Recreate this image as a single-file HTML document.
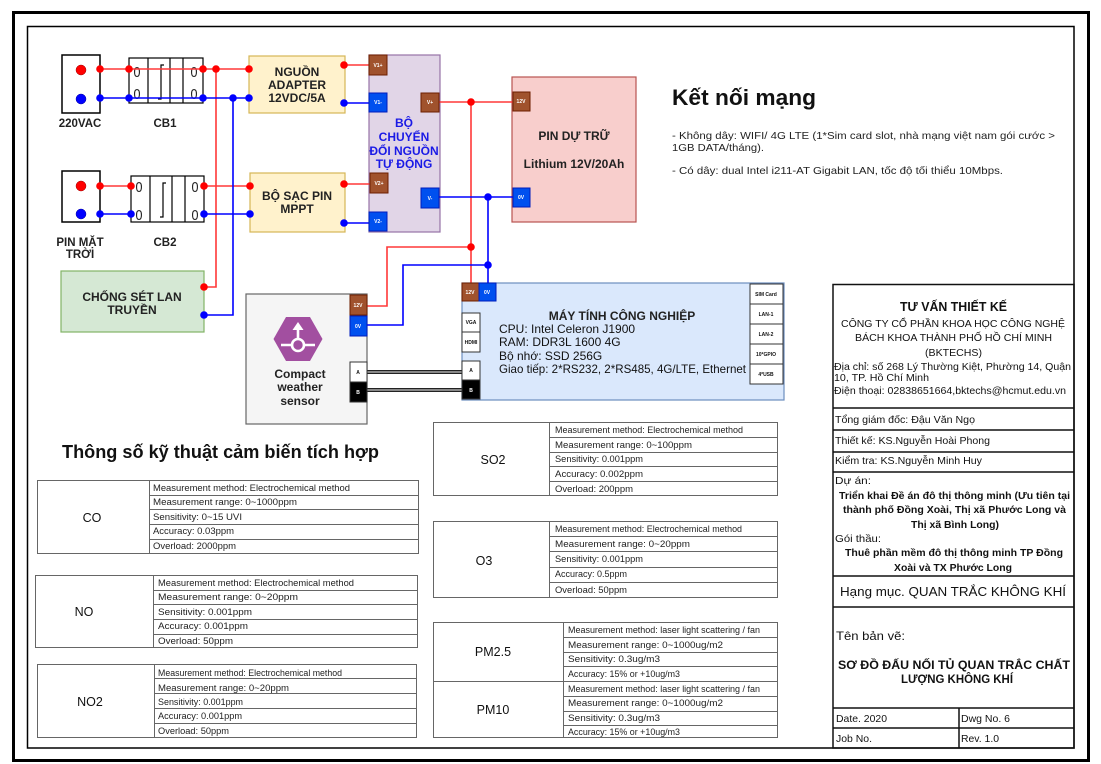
<!DOCTYPE html>
<html><head><meta charset="utf-8"><style>
html,body{margin:0;padding:0;background:#fff;}
svg{display:block;font-family:"Liberation Sans",Arial,sans-serif;}
</style></head><body>
<svg width="1101" height="764" viewBox="0 0 1101 764" xmlns="http://www.w3.org/2000/svg">
<rect width="1101" height="764" fill="#fff"/>
<!-- frame -->
<rect x="13.5" y="12.5" width="1075" height="748" fill="none" stroke="#000" stroke-width="3"/>
<rect x="27.5" y="26.5" width="1046.5" height="721.5" fill="none" stroke="#000" stroke-width="1.5"/>

<!-- sockets -->
<rect x="62" y="55" width="38" height="58" fill="#fff" stroke="#000" stroke-width="1.5"/>
<circle cx="81" cy="70" r="5" fill="#f00" stroke="#900" stroke-width="0.5"/>
<circle cx="81" cy="99" r="5" fill="#00f" stroke="#009" stroke-width="0.5"/>
<rect x="62" y="171" width="38" height="51" fill="#fff" stroke="#000" stroke-width="1.5"/>
<circle cx="81" cy="186" r="5" fill="#f00" stroke="#900" stroke-width="0.5"/>
<circle cx="81" cy="214" r="5" fill="#00f" stroke="#009" stroke-width="0.5"/>
<g font-weight="bold" font-size="11.5" fill="#222" text-anchor="middle">
<text x="80" y="127">220VAC</text>
<text x="165" y="127">CB1</text>
<text x="80" y="246">PIN MẶT</text>
<text x="80" y="258">TRỜI</text>
<text x="165" y="246">CB2</text>
</g>

<!-- CB1 / CB2 -->
<g stroke="#000" stroke-width="1.2" fill="none">
<rect x="129" y="58" width="74" height="45" fill="#fff"/>
<line x1="148" y1="58" x2="148" y2="103"/>
<line x1="170" y1="58" x2="170" y2="103"/>
<line x1="183" y1="58" x2="183" y2="103"/>
<path d="M164 65 H161 V99 H158"/>
<rect x="131" y="176" width="73" height="46" fill="#fff"/>
<line x1="150" y1="176" x2="150" y2="222"/>
<line x1="172" y1="176" x2="172" y2="222"/>
<line x1="185" y1="176" x2="185" y2="222"/>
<path d="M166 183 H163 V217 H160"/>
</g>
<g font-size="15" fill="#222" text-anchor="middle">
<text x="137" y="77" textLength="7" lengthAdjust="spacingAndGlyphs">0</text><text x="137" y="99" textLength="7" lengthAdjust="spacingAndGlyphs">0</text>
<text x="194" y="77" textLength="7" lengthAdjust="spacingAndGlyphs">0</text><text x="194" y="99" textLength="7" lengthAdjust="spacingAndGlyphs">0</text>
<text x="139" y="192" textLength="7" lengthAdjust="spacingAndGlyphs">0</text><text x="139" y="220" textLength="7" lengthAdjust="spacingAndGlyphs">0</text>
<text x="195" y="192" textLength="7" lengthAdjust="spacingAndGlyphs">0</text><text x="195" y="220" textLength="7" lengthAdjust="spacingAndGlyphs">0</text>
</g>

<!-- boxes -->
<rect x="249" y="56" width="96" height="57" fill="#fff2cc" stroke="#d6b656" stroke-width="1.2"/>
<rect x="250" y="173" width="95" height="59" fill="#fff2cc" stroke="#d6b656" stroke-width="1.2"/>
<rect x="61" y="271" width="143" height="61" fill="#d5e8d4" stroke="#82b366" stroke-width="1.2"/>
<rect x="369" y="55" width="71" height="177" fill="#e1d5e7" stroke="#9673a6" stroke-width="1.2"/>
<rect x="512" y="77" width="124" height="145" fill="#f8cecc" stroke="#b85450" stroke-width="1.2"/>
<rect x="246" y="294" width="121" height="130" fill="#f5f5f5" stroke="#666" stroke-width="1.2"/>
<rect x="462" y="283" width="322" height="117" fill="#dae8fc" stroke="#6c8ebf" stroke-width="1.2"/>

<g font-weight="bold" font-size="12" fill="#222" text-anchor="middle">
<text x="297" y="76">NGUỒN</text>
<text x="297" y="89">ADAPTER</text>
<text x="297" y="102">12VDC/5A</text>
<text x="297" y="200">BỘ SẠC PIN</text>
<text x="297" y="213">MPPT</text>
<text x="132" y="301">CHỐNG SÉT LAN</text>
<text x="132" y="314">TRUYỀN</text>
<text x="574" y="140">PIN DỰ TRỮ</text>
<text x="574" y="168">Lithium 12V/20Ah</text>
<text x="300" y="378">Compact</text>
<text x="300" y="391">weather</text>
<text x="300" y="405">sensor</text>
<text x="622" y="320">MÁY TÍNH CÔNG NGHIỆP</text>
</g>
<g font-weight="bold" font-size="12" fill="#1a1ae6" text-anchor="middle">
<text x="404" y="127">BỘ</text>
<text x="404" y="141">CHUYỂN</text>
<text x="404" y="155">ĐỔI NGUỒN</text>
<text x="404" y="168">TỰ ĐỘNG</text>
</g>
<g font-size="12" fill="#111">
<text x="499" y="333">CPU: Intel Celeron J1900</text>
<text x="499" y="346">RAM: DDR3L 1600 4G</text>
<text x="499" y="360">Bộ nhớ: SSD 256G</text>
<text x="499" y="373" textLength="247" lengthAdjust="spacingAndGlyphs">Giao tiếp: 2*RS232, 2*RS485, 4G/LTE, Ethernet</text>
</g>

<!-- wires -->
<g fill="none" stroke-width="1.6">
<g stroke="#ff3838">
<path d="M100 69 H249"/>
<path d="M216 69 V287 H204"/>
<path d="M100 186 H131 M204 186 H250"/>
<path d="M345 65 H369"/>
<path d="M345 184 H370"/>
<path d="M439 102 H513"/>
<path d="M471 102 V283"/>
<path d="M471 247 H387 V306 H367"/>
</g>
<g stroke="#0000ff">
<path d="M100 98 H249"/>
<path d="M233 98 V315 H204"/>
<path d="M100 214 H131 M204 214 H250"/>
<path d="M345 103 H369"/>
<path d="M345 223 H369"/>
<path d="M439 197 H513"/>
<path d="M488 197 V283"/>
<path d="M488 265 H403 V325 H367"/>
</g>
</g>
<!-- dots -->
<g fill="#f00">
<circle cx="100" cy="69" r="3.8"/><circle cx="129" cy="69" r="3.8"/><circle cx="203" cy="69" r="3.8"/>
<circle cx="216" cy="69" r="3.8"/><circle cx="249" cy="69" r="3.8"/>
<circle cx="100" cy="186" r="3.8"/><circle cx="131" cy="186" r="3.8"/><circle cx="204" cy="186" r="3.8"/><circle cx="250" cy="186" r="3.8"/>
<circle cx="204" cy="287" r="3.8"/>
<circle cx="344" cy="65" r="3.8"/><circle cx="344" cy="184" r="3.8"/>
<circle cx="471" cy="102" r="3.8"/><circle cx="471" cy="247" r="3.8"/>
</g>
<g fill="#00f">
<circle cx="100" cy="98" r="3.8"/><circle cx="129" cy="98" r="3.8"/><circle cx="203" cy="98" r="3.8"/>
<circle cx="233" cy="98" r="3.8"/><circle cx="249" cy="98" r="3.8"/>
<circle cx="100" cy="214" r="3.8"/><circle cx="131" cy="214" r="3.8"/><circle cx="204" cy="214" r="3.8"/><circle cx="250" cy="214" r="3.8"/>
<circle cx="204" cy="315" r="3.8"/>
<circle cx="344" cy="103" r="3.8"/><circle cx="344" cy="223" r="3.8"/>
<circle cx="488" cy="197" r="3.8"/><circle cx="488" cy="265" r="3.8"/>
</g>

<!-- A/B cables -->
<g fill="none">
<path d="M367 372 H462 M367 390 H462" stroke="#222" stroke-width="4"/>
<path d="M367 372 H462 M367 390 H462" stroke="#aaa" stroke-width="1.6"/>
</g>

<!-- terminals -->
<g stroke-width="1">
<g fill="#a0522d" stroke="#6d1f00">
<rect x="369" y="55" width="18" height="20"/>
<rect x="421" y="93" width="18" height="19"/>
<rect x="370" y="173" width="18" height="20"/>
<rect x="513" y="92" width="17" height="19"/>
<rect x="350" y="295" width="17" height="20"/>
<rect x="462" y="283" width="17" height="18"/>
</g>
<g fill="#0050ef" stroke="#001dbc">
<rect x="369" y="93" width="18" height="19"/>
<rect x="421" y="188" width="18" height="20"/>
<rect x="369" y="212" width="18" height="19"/>
<rect x="513" y="188" width="17" height="19"/>
<rect x="350" y="316" width="17" height="20"/>
<rect x="479" y="283" width="17" height="18"/>
</g>
<g fill="#fff" stroke="#333">
<rect x="350" y="362" width="17" height="20"/>
<rect x="462" y="361" width="18" height="19"/>
<rect x="462" y="313" width="18" height="19"/>
<rect x="462" y="332" width="18" height="20"/>
<rect x="750" y="284" width="33" height="20"/>
<rect x="750" y="304" width="33" height="20"/>
<rect x="750" y="324" width="33" height="20"/>
<rect x="750" y="344" width="33" height="20"/>
<rect x="750" y="364" width="33" height="20"/>
</g>
<g fill="#000" stroke="#333">
<rect x="350" y="382" width="17" height="20"/>
<rect x="462" y="380" width="18" height="19"/>
</g>
</g>
<g font-size="5" font-weight="bold" fill="#fff" text-anchor="middle">
<text x="378" y="67">V1+</text>
<text x="378" y="104">V1-</text>
<text x="430" y="104">V+</text>
<text x="379" y="185">V2+</text>
<text x="430" y="200">V-</text>
<text x="378" y="223">V2-</text>
<text x="521" y="103">12V</text>
<text x="521" y="199">0V</text>
<text x="358" y="307">12V</text>
<text x="358" y="328">0V</text>
<text x="470" y="294">12V</text>
<text x="487" y="294">0V</text>
<text x="358" y="394">B</text>
<text x="471" y="392">B</text>
</g>
<g font-size="5" font-weight="bold" fill="#111" text-anchor="middle">
<text x="358" y="374">A</text>
<text x="471" y="372">A</text>
<text x="471" y="324">VGA</text>
<text x="471" y="344">HDMI</text>
<text x="766" y="296">SIM Card</text>
<text x="766" y="316">LAN-1</text>
<text x="766" y="336">LAN-2</text>
<text x="766" y="356">10*GPIO</text>
<text x="766" y="376">4*USB</text>
</g>

<!-- sensor icon -->
<polygon points="273.5,339 286,317 310,317 322.5,339 310,361 286,361" fill="#a24fa0"/>
<g stroke="#fff" stroke-width="2.6" fill="none">
<circle cx="298" cy="345" r="6"/>
<path d="M281 345 H292 M304 345 H315"/>
<path d="M298 339 V328"/>
</g>
<polygon points="298,322 292.5,330 303.5,330" fill="#fff"/>

<!-- Ket noi mang -->
<text x="672" y="105" font-size="22" font-weight="bold" fill="#111" textLength="144" lengthAdjust="spacingAndGlyphs">Kết nối mạng</text>
<g font-size="10.5" fill="#222">
<text x="672" y="139" textLength="383" lengthAdjust="spacingAndGlyphs">- Không dây: WIFI/ 4G LTE (1*Sim card slot, nhà mạng việt nam gói cước &gt;</text>
<text x="672" y="151" textLength="92" lengthAdjust="spacingAndGlyphs">1GB DATA/tháng).</text>
<text x="672" y="174" textLength="331" lengthAdjust="spacingAndGlyphs">- Có dây: dual Intel i211-AT Gigabit LAN, tốc độ tối thiểu 10Mbps.</text>
</g>

<!-- sensor spec title -->
<text x="62" y="458" font-size="18" font-weight="bold" fill="#111" textLength="317" lengthAdjust="spacingAndGlyphs">Thông số kỹ thuật cảm biến tích hợp</text>

<!-- tables -->
<g fill="none" stroke="#666" stroke-width="1">
<rect x="37.5" y="480.5" width="381" height="73"/>
<path d="M149.5 480 V554 M149 495.5 H419 M149 509.5 H419 M149 524.5 H419 M149 539.5 H419"/>
<rect x="35.5" y="575.5" width="382" height="72"/>
<path d="M153.5 575 V648 M153 590.5 H418 M153 604.5 H418 M153 619.5 H418 M153 634.5 H418"/>
<rect x="37.5" y="664.5" width="379" height="73"/>
<path d="M154.5 664 V738 M154 678.5 H417 M154 693.5 H417 M154 708.5 H417 M154 723.5 H417"/>
<rect x="433.5" y="422.5" width="344" height="73"/>
<path d="M549.5 422 V496 M549 437.5 H778 M549 452.5 H778 M549 466.5 H778 M549 481.5 H778"/>
<rect x="433.5" y="521.5" width="344" height="76"/>
<path d="M549.5 521 V598 M549 536.5 H778 M549 551.5 H778 M549 567.5 H778 M549 582.5 H778"/>
<rect x="433.5" y="622.5" width="344" height="115"/>
<path d="M563.5 622 V738 M563 637.5 H778 M563 652.5 H778 M563 666.5 H778 M433 681.5 H778 M563 696.5 H778 M563 711.5 H778 M563 725.5 H778"/>
</g>
<g font-size="12.5" fill="#111" text-anchor="middle">
<text x="92" y="522">CO</text>
<text x="84" y="616">NO</text>
<text x="90" y="706">NO2</text>
<text x="493" y="464">SO2</text>
<text x="484" y="565">O3</text>
<text x="493" y="656">PM2.5</text>
<text x="493" y="714">PM10</text>
</g>
<g font-size="9" fill="#222">
<text x="153" y="491" textLength="197" lengthAdjust="spacingAndGlyphs">Measurement method: Electrochemical method</text>
<text x="153" y="505" textLength="144" lengthAdjust="spacingAndGlyphs">Measurement range: 0~1000ppm</text>
<text x="153" y="520" textLength="89" lengthAdjust="spacingAndGlyphs">Sensitivity: 0~15 UVI</text>
<text x="153" y="534" textLength="81" lengthAdjust="spacingAndGlyphs">Accuracy: 0.03ppm</text>
<text x="153" y="549" textLength="83" lengthAdjust="spacingAndGlyphs">Overload: 2000ppm</text>

<text x="158" y="586" textLength="196" lengthAdjust="spacingAndGlyphs">Measurement method: Electrochemical method</text>
<text x="158" y="600" textLength="140" lengthAdjust="spacingAndGlyphs">Measurement range:    0~20ppm</text>
<text x="158" y="615" textLength="94" lengthAdjust="spacingAndGlyphs">Sensitivity: 0.001ppm</text>
<text x="158" y="629" textLength="90" lengthAdjust="spacingAndGlyphs">Accuracy: 0.001ppm</text>
<text x="158" y="644" textLength="75" lengthAdjust="spacingAndGlyphs">Overload:  50ppm</text>

<text x="158" y="676" textLength="184" lengthAdjust="spacingAndGlyphs">Measurement method: Electrochemical method</text>
<text x="158" y="691" textLength="131" lengthAdjust="spacingAndGlyphs">Measurement range:  0~20ppm</text>
<text x="158" y="705" textLength="85" lengthAdjust="spacingAndGlyphs">Sensitivity:  0.001ppm</text>
<text x="158" y="719" textLength="84" lengthAdjust="spacingAndGlyphs">Accuracy:  0.001ppm</text>
<text x="158" y="734" textLength="71" lengthAdjust="spacingAndGlyphs">Overload:  50ppm</text>

<text x="555" y="433" textLength="188" lengthAdjust="spacingAndGlyphs">Measurement method: Electrochemical method</text>
<text x="555" y="448" textLength="137" lengthAdjust="spacingAndGlyphs">Measurement range:  0~100ppm</text>
<text x="555" y="462" textLength="88" lengthAdjust="spacingAndGlyphs">Sensitivity:  0.001ppm</text>
<text x="555" y="477" textLength="88" lengthAdjust="spacingAndGlyphs">Accuracy:  0.002ppm</text>
<text x="555" y="492" textLength="78" lengthAdjust="spacingAndGlyphs">Overload:  200ppm</text>

<text x="555" y="532" textLength="187" lengthAdjust="spacingAndGlyphs">Measurement method: Electrochemical method</text>
<text x="555" y="547" textLength="135" lengthAdjust="spacingAndGlyphs">Measurement range:    0~20ppm</text>
<text x="555" y="562" textLength="88" lengthAdjust="spacingAndGlyphs">Sensitivity:  0.001ppm</text>
<text x="555" y="577" textLength="72" lengthAdjust="spacingAndGlyphs">Accuracy:  0.5ppm</text>
<text x="555" y="593" textLength="72" lengthAdjust="spacingAndGlyphs">Overload:  50ppm</text>

<text x="568" y="633" textLength="192" lengthAdjust="spacingAndGlyphs">Measurement method: laser light scattering / fan</text>
<text x="568" y="648" textLength="155" lengthAdjust="spacingAndGlyphs">Measurement range:    0~1000ug/m2</text>
<text x="568" y="662" textLength="92" lengthAdjust="spacingAndGlyphs">Sensitivity:  0.3ug/m3</text>
<text x="568" y="677" textLength="112" lengthAdjust="spacingAndGlyphs">Accuracy:  15% or +10ug/m3</text>
<text x="568" y="692" textLength="192" lengthAdjust="spacingAndGlyphs">Measurement method: laser light scattering / fan</text>
<text x="568" y="706" textLength="155" lengthAdjust="spacingAndGlyphs">Measurement range:    0~1000ug/m2</text>
<text x="568" y="721" textLength="92" lengthAdjust="spacingAndGlyphs">Sensitivity:  0.3ug/m3</text>
<text x="568" y="735" textLength="112" lengthAdjust="spacingAndGlyphs">Accuracy:  15% or +10ug/m3</text>
</g>

<!-- title block -->
<g fill="none" stroke="#111" stroke-width="1.5">
<rect x="833" y="284.5" width="241" height="463.5"/>
<path d="M833 408 H1074 M833 430 H1074 M833 452 H1074 M833 472 H1074 M833 576 H1074 M833 607 H1074 M833 708 H1074 M833 728 H1074 M959 708 V748"/>
</g>
<g fill="#111" font-size="10.5">
<text x="953.5" y="311" font-size="12.5" font-weight="bold" text-anchor="middle" textLength="107" lengthAdjust="spacingAndGlyphs">TƯ VẤN THIẾT KẾ</text>
<text x="953" y="327" text-anchor="middle" textLength="224" lengthAdjust="spacingAndGlyphs">CÔNG TY CỔ PHẦN KHOA HỌC CÔNG NGHỆ</text>
<text x="953.5" y="341" text-anchor="middle" textLength="197" lengthAdjust="spacingAndGlyphs">BÁCH KHOA THÀNH PHỐ HỒ CHÍ MINH</text>
<text x="953.5" y="356" text-anchor="middle" textLength="57" lengthAdjust="spacingAndGlyphs">(BKTECHS)</text>
<text x="834" y="370" textLength="237" lengthAdjust="spacingAndGlyphs">Địa chỉ: số 268 Lý Thường Kiệt, Phường 14, Quận</text>
<text x="834" y="381" textLength="95" lengthAdjust="spacingAndGlyphs">10, TP. Hồ Chí Minh</text>
<text x="834" y="394" textLength="232" lengthAdjust="spacingAndGlyphs">Điện thoại: 02838651664,bktechs@hcmut.edu.vn</text>
<text x="835" y="423" textLength="140" lengthAdjust="spacingAndGlyphs">Tổng giám đốc: Đậu Văn Ngọ</text>
<text x="835" y="444" textLength="155" lengthAdjust="spacingAndGlyphs">Thiết kế: KS.Nguyễn Hoài Phong</text>
<text x="835" y="464" textLength="147" lengthAdjust="spacingAndGlyphs">Kiểm tra: KS.Nguyễn Minh Huy</text>
<text x="835" y="484" textLength="36" lengthAdjust="spacingAndGlyphs">Dự án:</text>
<text x="954.5" y="499" font-weight="bold" text-anchor="middle" textLength="231" lengthAdjust="spacingAndGlyphs">Triển khai Đề án đô thị thông minh (Ưu tiên tại</text>
<text x="954.5" y="513" font-weight="bold" text-anchor="middle" textLength="223" lengthAdjust="spacingAndGlyphs">thành phố Đồng Xoài, Thị xã Phước Long và</text>
<text x="955" y="528" font-weight="bold" text-anchor="middle" textLength="88" lengthAdjust="spacingAndGlyphs">Thị xã Bình Long)</text>
<text x="835" y="542" textLength="46" lengthAdjust="spacingAndGlyphs">Gói thầu:</text>
<text x="954" y="556" font-weight="bold" text-anchor="middle" textLength="218" lengthAdjust="spacingAndGlyphs">Thuê phần mềm đô thị thông minh TP Đồng</text>
<text x="953" y="571" font-weight="bold" text-anchor="middle" textLength="118" lengthAdjust="spacingAndGlyphs">Xoài và TX Phước Long</text>
<text x="953" y="596" font-size="12.5" text-anchor="middle" textLength="226" lengthAdjust="spacingAndGlyphs">Hạng mục. QUAN TRẮC KHÔNG KHÍ</text>
<text x="836" y="640" font-size="12" textLength="69" lengthAdjust="spacingAndGlyphs">Tên bản vẽ:</text>
<text x="954" y="669" font-size="12" font-weight="bold" text-anchor="middle" textLength="232" lengthAdjust="spacingAndGlyphs">SƠ ĐỒ ĐẤU NỐI TỦ QUAN TRẮC CHẤT</text>
<text x="957" y="683" font-size="12" font-weight="bold" text-anchor="middle" textLength="112" lengthAdjust="spacingAndGlyphs">LƯỢNG KHÔNG KHÍ</text>
<text x="836" y="722" textLength="51" lengthAdjust="spacingAndGlyphs">Date. 2020</text>
<text x="961" y="722" textLength="49" lengthAdjust="spacingAndGlyphs">Dwg No. 6</text>
<text x="836" y="742" textLength="36" lengthAdjust="spacingAndGlyphs">Job No.</text>
<text x="961" y="742" textLength="38" lengthAdjust="spacingAndGlyphs">Rev. 1.0</text>
</g>
</svg>
</body></html>
